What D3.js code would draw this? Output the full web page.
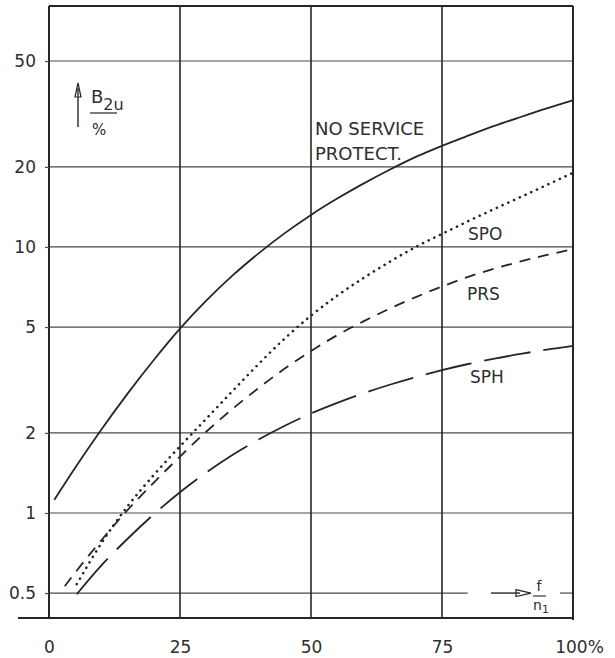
<!DOCTYPE html>
<html>
<head>
<meta charset="utf-8">
<script src="https://cdn.jsdelivr.net/npm/d3@7/dist/d3.min.js"></script>
<style>
html,body{margin:0;padding:0;background:#fff;}
svg{display:block;}
text{font-family:"DejaVu Sans",sans-serif;fill:#2e2e2e;}
</style>
</head>
<body>
<svg id="chart" width="615" height="658"></svg>
<script>
// ---- data ----
const xTicks = [0, 25, 50, 75, 100];
const xTickLabels = ["0", "25", "50", "75", "100%"];
const yTicks = [0.5, 1, 2, 5, 10, 20, 50];
const yTickLabels = ["0.5", "1", "2", "5", "10", "20", "50"];

const noServiceX = [1, 5, 10, 15, 20, 25, 30, 35, 40, 45, 50, 55, 60, 65, 70, 75, 80, 85, 90, 95, 100];
const noServiceY = [1.12, 1.48, 2.06, 2.81, 3.76, 4.93, 6.28, 7.8, 9.46, 11.27, 13.2, 15.2, 17.3, 19.5, 21.8, 24.0, 26.2, 28.5, 30.8, 33.2, 35.6];

const spoX = [5.3, 10, 15, 20, 25, 30, 35, 40, 45, 50, 55, 60, 65, 70, 75, 80, 85, 90, 95, 100];
const spoY = [0.54, 0.77, 1.06, 1.39, 1.78, 2.26, 2.87, 3.63, 4.53, 5.52, 6.56, 7.64, 8.79, 10.0, 11.2, 12.5, 13.9, 15.4, 17.1, 19.0];

const prsX = [3, 5, 10, 15, 20, 25, 30, 35, 40, 45, 50, 55, 60, 65, 70, 75, 80, 85, 90, 95, 100];
const prsY = [0.53, 0.597, 0.79, 1.026, 1.30, 1.63, 2.02, 2.46, 2.95, 3.49, 4.06, 4.66, 5.25, 5.86, 6.48, 7.10, 7.72, 8.29, 8.82, 9.33, 9.8];

const sphX = [5.3, 10, 15, 20, 25, 30, 35, 40, 45, 50, 55, 60, 65, 70, 75, 80, 85, 90, 95, 100];
const sphY = [0.495, 0.635, 0.80, 0.989, 1.197, 1.419, 1.652, 1.888, 2.128, 2.366, 2.594, 2.818, 3.034, 3.243, 3.443, 3.631, 3.802, 3.963, 4.111, 4.246];

const seriesLabels = ["NO SERVICE", "PROTECT.", "SPO", "PRS", "SPH"];

// ---- layout ----
const svg = d3.select("#chart");
const L = 49, R = 573, T = 6, B = 618;
const x = d3.scaleLinear().domain([0, 100]).range([L, R]);
const y = d3.scaleLog().domain([0.4029, 80.5]).range([B, T]);

const ink = "#262626";
const gridInk = "#4a4a4a";

// horizontal grid lines
const g = svg.append("g");
yTicks.forEach(v => {
  const segs = v === 0.5 ? [[0, 79.9], [97.5, 100]] : [[0, 100]];
  segs.forEach(s => {
    g.append("line").attr("x1", x(s[0])).attr("x2", x(s[1])).attr("y1", y(v)).attr("y2", y(v))
      .attr("stroke", gridInk).attr("stroke-width", 1.2);
  });
});
// vertical grid lines
[25, 50, 75].forEach(v => {
  g.append("line").attr("x1", x(v)).attr("x2", x(v)).attr("y1", T).attr("y2", B)
    .attr("stroke", ink).attr("stroke-width", 1.6);
});
// frame
svg.append("line").attr("x1", L).attr("x2", R).attr("y1", T).attr("y2", T).attr("stroke", ink).attr("stroke-width", 2);
svg.append("line").attr("x1", L).attr("x2", L).attr("y1", T).attr("y2", B).attr("stroke", ink).attr("stroke-width", 2);
svg.append("line").attr("x1", R).attr("x2", R).attr("y1", T).attr("y2", B + 2).attr("stroke", ink).attr("stroke-width", 2);
svg.append("line").attr("x1", 18).attr("x2", R).attr("y1", B).attr("y2", B).attr("stroke", ink).attr("stroke-width", 2);

// y axis
const yAxis = d3.axisLeft(y).tickValues(yTicks)
  .tickFormat((d, i) => yTickLabels[i]).tickSize(4).tickPadding(9);
const ya = svg.append("g").attr("transform", `translate(${L},0)`).call(yAxis);
ya.select(".domain").remove();
ya.selectAll(".tick line").attr("stroke", gridInk).attr("stroke-width", 1.2);
ya.selectAll(".tick text").attr("font-size", 17).attr("font-family", "DejaVu Sans").attr("fill", "#2e2e2e");

// x axis
const xAxis = d3.axisBottom(x).tickValues(xTicks)
  .tickFormat((d, i) => xTickLabels[i]).tickSize(0).tickPadding(23);
const xa = svg.append("g").attr("transform", `translate(0,${B})`).call(xAxis);
xa.select(".domain").remove();
xa.selectAll(".tick text").attr("font-size", 17).attr("font-family", "DejaVu Sans").attr("fill", "#2e2e2e")
  .attr("dx", (d, i) => i === 4 ? 6 : 0);

// curves
const line = d3.line().x(d => x(d[0])).y(d => y(d[1])).curve(d3.curveMonotoneX);
const zip = (a, b) => a.map((v, i) => [v, b[i]]);

svg.append("path").datum(zip(noServiceX, noServiceY)).attr("d", line)
  .attr("fill", "none").attr("stroke", ink).attr("stroke-width", 1.8);
svg.append("path").datum(zip(spoX, spoY)).attr("d", line)
  .attr("fill", "none").attr("stroke", ink).attr("stroke-width", 2.6)
  .attr("stroke-linecap", "round").attr("stroke-dasharray", "0.1,6.2");
svg.append("path").datum(zip(prsX, prsY)).attr("d", line)
  .attr("fill", "none").attr("stroke", ink).attr("stroke-width", 1.8)
  .attr("stroke-dasharray", "11,8");
svg.append("path").datum(zip(sphX, sphY)).attr("d", line)
  .attr("fill", "none").attr("stroke", ink).attr("stroke-width", 1.8)
  .attr("stroke-dasharray", "47,13");

// series labels
const lab = svg.append("g").attr("font-size", 17);
lab.append("text").attr("x", 315).attr("y", 135).attr("font-size", 18).text(seriesLabels[0]);
lab.append("text").attr("x", 315).attr("y", 160).attr("font-size", 18).text(seriesLabels[1]);
lab.append("text").attr("x", 468).attr("y", 240).text(seriesLabels[2]);
lab.append("text").attr("x", 467).attr("y", 300).text(seriesLabels[3]);
lab.append("text").attr("x", 470).attr("y", 383).text(seriesLabels[4]);

// y axis title with arrow
svg.append("line").attr("x1", 78).attr("x2", 78).attr("y1", 127).attr("y2", 88)
  .attr("stroke", ink).attr("stroke-width", 1.4);
svg.append("path").attr("d", "M75,97 L78,83 L81,97 Z").attr("fill", "none").attr("stroke", ink).attr("stroke-width", 1.2);
const yt = svg.append("text").attr("x", 91).attr("y", 103).attr("font-size", 18);
yt.append("tspan").text("B");
yt.append("tspan").attr("font-size", 16).attr("dy", 7).text("2u");
svg.append("line").attr("x1", 90).attr("x2", 117).attr("y1", 113).attr("y2", 113)
  .attr("stroke", ink).attr("stroke-width", 1.2);
svg.append("text").attr("x", 92).attr("y", 135).attr("font-size", 15).text("%");

// x axis annotation
const yA = y(0.5);
svg.append("line").attr("x1", 491).attr("x2", 520).attr("y1", yA).attr("y2", yA)
  .attr("stroke", ink).attr("stroke-width", 1.4);
svg.append("path").attr("d", `M516,${yA - 3.5} L531,${yA} L516,${yA + 3.5} Z`)
  .attr("fill", "none").attr("stroke", ink).attr("stroke-width", 1.2);
svg.append("text").attr("x", 539).attr("y", 591).attr("font-size", 14).attr("text-anchor", "middle").text("f");
svg.append("line").attr("x1", 533).attr("x2", 546).attr("y1", 596).attr("y2", 596)
  .attr("stroke", ink).attr("stroke-width", 1.1);
const nt = svg.append("text").attr("x", 533).attr("y", 610).attr("font-size", 14);
nt.append("tspan").text("n");
nt.append("tspan").attr("font-size", 11).attr("dy", 3).text("1");
</script>
</body>
</html>
